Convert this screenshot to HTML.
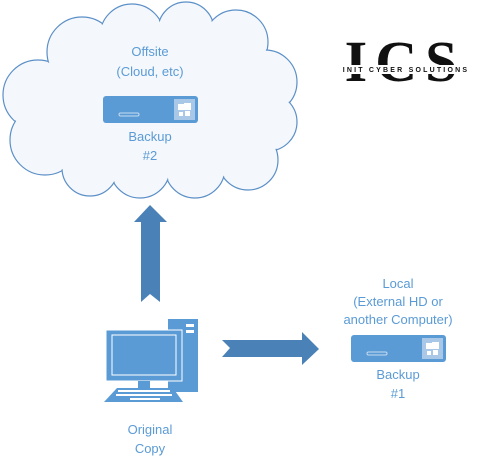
<!DOCTYPE html>
<html><head><meta charset="utf-8"><style>
html,body{margin:0;padding:0;background:#fff}
svg{display:block}
text{font-family:"Liberation Sans",sans-serif;font-size:13px;fill:#5b9bd5;text-anchor:middle}
</style></head><body>
<svg width="481" height="466" viewBox="0 0 481 466">
<g stroke="#5b8fc7" stroke-width="1.2" fill="#f6f8fc">
<circle cx="38" cy="95" r="35"/><circle cx="45" cy="140" r="35"/><circle cx="82" cy="52" r="35"/>
<circle cx="132" cy="36" r="32"/><circle cx="186" cy="30" r="28"/><circle cx="236" cy="42" r="32"/>
<circle cx="265" cy="82" r="32"/><circle cx="268" cy="122" r="29"/><circle cx="248" cy="160" r="30"/>
<circle cx="195" cy="168" r="30"/><circle cx="140" cy="168" r="30"/><circle cx="90" cy="168" r="28"/>
</g>
<g fill="#f4f7fb">
<circle cx="38" cy="95" r="34"/><circle cx="45" cy="140" r="34"/><circle cx="82" cy="52" r="34"/>
<circle cx="132" cy="36" r="31"/><circle cx="186" cy="30" r="27"/><circle cx="236" cy="42" r="31"/>
<circle cx="265" cy="82" r="31"/><circle cx="268" cy="122" r="28"/><circle cx="248" cy="160" r="29"/>
<circle cx="195" cy="168" r="29"/><circle cx="140" cy="168" r="29"/><circle cx="90" cy="168" r="27"/>
<ellipse cx="152" cy="105" rx="118" ry="68"/>
</g>
<text x="150" y="56">Offsite</text>
<text x="150" y="76">(Cloud, etc)</text>
<g>
<rect x="103" y="96" width="95" height="27" rx="3" fill="#5b9bd5"/>
<rect x="174" y="99" width="21" height="21" fill="#a9c8e8"/>
<rect x="178" y="104" width="6" height="6" fill="#fff"/><rect x="184" y="103" width="7" height="7" fill="#fff"/><rect x="185" y="111" width="5" height="5" fill="#fff"/><rect x="179" y="112" width="4" height="4" fill="#fff"/>
<rect x="119" y="113" width="20" height="3" rx="1.5" fill="#5b9bd5" stroke="#c5dbef" stroke-width="1"/>
</g>
<text x="150" y="141">Backup</text>
<text x="150" y="160">#2</text>
<polygon points="150,205 167,222 160,222 160,302 150,294 141,302 141,222 134,222" fill="#4a82b8"/>
<polygon points="222,340 302,340 302,332 319,349 302,365 302,357 222,357 230,348" fill="#4a82b8"/>
<text x="398" y="288">Local</text>
<text x="398" y="306">(External HD or</text>
<text x="398" y="324">another Computer)</text>
<g>
<rect x="351" y="335" width="95" height="27" rx="3" fill="#5b9bd5"/>
<rect x="422" y="338" width="21" height="21" fill="#a9c8e8"/>
<rect x="426" y="343" width="6" height="6" fill="#fff"/><rect x="432" y="342" width="7" height="7" fill="#fff"/><rect x="433" y="350" width="5" height="5" fill="#fff"/><rect x="427" y="351" width="4" height="4" fill="#fff"/>
<rect x="367" y="352" width="20" height="3" rx="1.5" fill="#5b9bd5" stroke="#c5dbef" stroke-width="1"/>
</g>
<text x="398" y="379">Backup</text>
<text x="398" y="398">#1</text>
<g fill="#5b9bd5">
<rect x="168" y="319" width="30" height="73"/>
<rect x="186" y="324" width="8" height="3" fill="#fff"/><rect x="186" y="330" width="8" height="3" fill="#fff"/>
<rect x="106" y="330" width="76" height="51" stroke="#fff" stroke-width="1"/>
<rect x="112" y="335" width="64" height="40" fill="#5b9bd5" stroke="#fff" stroke-width="1"/>
<rect x="138" y="381" width="12" height="8"/>
<polygon points="117,388 173,388 183,402 104,402"/>
</g>
<g fill="#fff">
<rect x="118" y="390" width="52" height="2"/><rect x="116" y="394" width="56" height="2"/><rect x="130" y="398" width="30" height="2"/>
</g>
<text x="150" y="434">Original</text>
<text x="150" y="453">Copy</text>
<text x="405" y="81" style="font-family:'Liberation Serif',serif;font-size:58px;font-weight:bold;fill:#111;letter-spacing:8px">ICS</text>
<rect x="340" y="65" width="135" height="9" fill="#fff"/>
<text x="406" y="72" style="font-family:'Liberation Sans',sans-serif;font-size:7px;fill:#111;letter-spacing:2.2px;font-weight:bold">INIT CYBER SOLUTIONS</text>
</svg>
</body></html>
